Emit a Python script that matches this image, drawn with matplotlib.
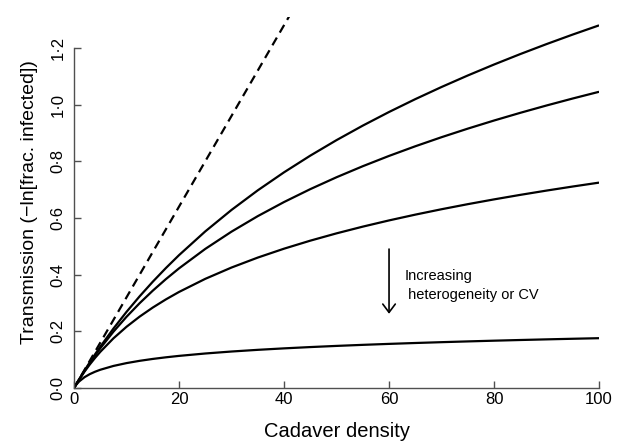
import numpy as np
import matplotlib
matplotlib.use("Agg")
import matplotlib.pyplot as plt

plt.rcParams['font.family'] = ['Liberation Sans', 'DejaVu Sans']

density = [0, 0.25, 0.5, 1, 2, 3, 4, 5, 7.5, 10, 12.5, 15, 17.5, 20, 25, 30, 35,
           40, 45, 50, 55, 60, 65, 70, 75, 80, 85, 90, 95, 100]

# Transmission curves, from least to most heterogeneity
trans_low = [0, 0.00796, 0.01584, 0.03137, 0.06154, 0.09060, 0.11863, 0.14570,
             0.20957, 0.26867, 0.32364, 0.37504, 0.42330, 0.46878, 0.55257,
             0.62832, 0.69743, 0.76098, 0.81980, 0.87454, 0.92573, 0.97381,
             1.01913, 1.06198, 1.10263, 1.14130, 1.17816, 1.21337, 1.24708,
             1.27942]
trans_mid = [0, 0.00794, 0.01577, 0.03109, 0.06048, 0.08836, 0.11487, 0.14014,
             0.19857, 0.25130, 0.29933, 0.34343, 0.38421, 0.42212, 0.49078,
             0.55169, 0.60642, 0.65611, 0.70161, 0.74358, 0.78251, 0.81883,
             0.85285, 0.88486, 0.91508, 0.94370, 0.97087, 0.99675, 1.02144,
             1.04505]
trans_high = [0, 0.00789, 0.01558, 0.03037, 0.05787, 0.08300, 0.10614, 0.12758,
              0.17517, 0.21607, 0.25195, 0.28389, 0.31268, 0.33889, 0.38515,
              0.42508, 0.46019, 0.49154, 0.51984, 0.54564, 0.56935, 0.59127,
              0.61166, 0.63072, 0.64862, 0.66547, 0.68141, 0.69653, 0.71090,
              0.72459]
trans_vhigh = [0, 0.00729, 0.01346, 0.02351, 0.03822, 0.04895, 0.05740, 0.06438,
               0.07784, 0.08789, 0.09592, 0.10260, 0.10832, 0.11333, 0.12178,
               0.12876, 0.13469, 0.13986, 0.14444, 0.14854, 0.15227, 0.15567,
               0.15881, 0.16172, 0.16443, 0.16698, 0.16936, 0.17162, 0.17375,
               0.17578]

# homogeneous (no heterogeneity) line
homog_x = [0, 45]
homog_y = [0, 1.44]

yticks = [0, 0.2, 0.4, 0.6, 0.8, 1.0, 1.2]
ytick_labels = ["0·0", "0·2", "0·4", "0·6", "0·8", "1·0", "1·2"]
xticks = [0, 20, 40, 60, 80, 100]

fig = plt.figure(figsize=(6.2, 4.44), dpi=100)
ax = fig.add_axes([0.1194, 0.1261, 0.8468, 0.8363])

for series in [trans_low, trans_mid, trans_high, trans_vhigh]:
    ax.plot(density, series, color='black', lw=1.6, solid_capstyle='butt')
ax.plot(homog_x, homog_y, color='black', lw=1.6, ls=(0, (4, 2.6)))

ax.set_xlim(0, 100)
ax.set_ylim(0, 1.31)

for side in ['top', 'right']:
    ax.spines[side].set_visible(False)
for side in ['left', 'bottom']:
    ax.spines[side].set_color('#505050')
    ax.spines[side].set_linewidth(1.0)
ax.spines['left'].set_bounds(0, 1.2)
ax.spines['bottom'].set_bounds(0, 100)

ax.set_xticks(xticks)
ax.set_xticklabels([str(t) for t in xticks], fontsize=12)
ax.set_yticks(yticks)
ax.set_yticklabels(ytick_labels, fontsize=12, rotation=90, va='center')
ax.tick_params(direction='in', length=5, width=1.0, color='#505050')
ax.tick_params(axis='x', pad=3)
ax.tick_params(axis='y', pad=6)

ax.set_xlabel("Cadaver density", fontsize=14.5, labelpad=11)
ax.set_ylabel("Transmission (−ln[frac. infected])", fontsize=14, labelpad=9)

# arrow and note
ax.annotate("", xy=(60, 0.252), xytext=(60, 0.50),
            arrowprops=dict(arrowstyle='->,head_length=0.6,head_width=0.45',
                            color='black', lw=1.2))
ax.text(62.9, 0.395, "Increasing", fontsize=10.5, va='center', ha='left')
ax.text(62.9, 0.328, " heterogeneity or CV", fontsize=10.5, va='center', ha='left')

fig.savefig("out.png", dpi=100)
